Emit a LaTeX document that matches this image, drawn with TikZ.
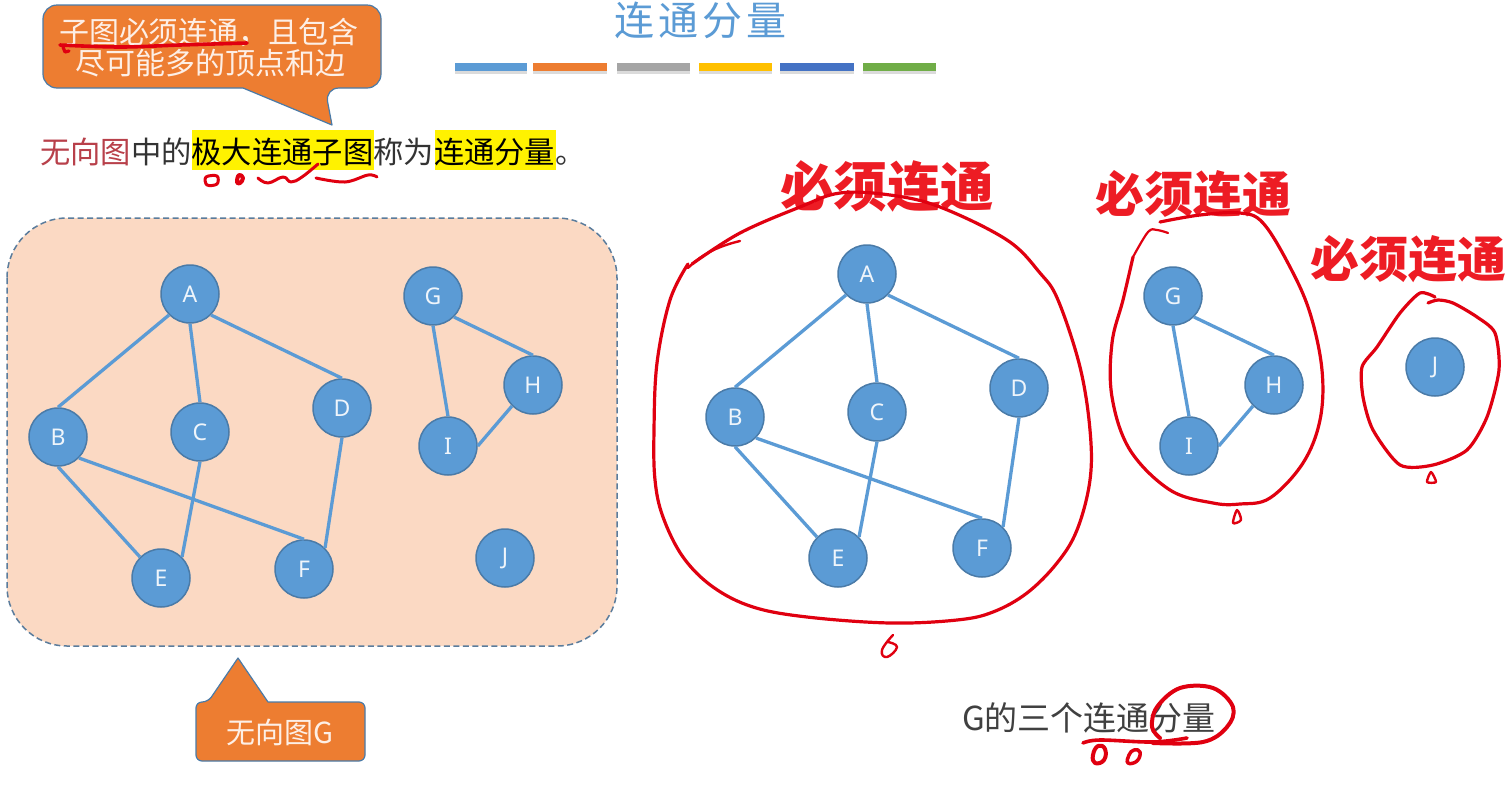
\documentclass[tikz,border=0pt]{standalone}
\usepackage{fontspec}
\setmainfont{Noto Sans}
\newfontfamily\cjk{Noto Sans CJK SC}
\usetikzlibrary{calc}
\definecolor{blu}{HTML}{5B9BD5}
\definecolor{blub}{HTML}{4A7BA8}
\definecolor{org}{HTML}{ED7D31}
\definecolor{orgl}{HTML}{FBD9C3}
\definecolor{inkred}{HTML}{E00010}
\definecolor{headred}{HTML}{ED1C24}
\definecolor{grayt}{HTML}{404040}
\newcommand{\fs}[1]{\fontsize{#1}{#1}\selectfont}
\tikzset{
  vert/.style={circle,draw=blub,line width=1.5pt,fill=blu,minimum size=58pt,inner sep=0pt,text=white!90!blu,font=\fs{23}},
  edg/.style={draw=blu,line width=3.3pt},
  bar/.style={inner sep=0pt,minimum height=8pt,anchor=west},
  txt/.style={inner sep=0pt,font=\cjk\fs{30},text=grayt},
  redhead/.style={inner sep=0pt,text=headred,font=\cjk\bfseries},
  ink/.style={draw=inkred,line width=3.2pt,line cap=round,line join=round},
  callout/.style={fill=org,draw=blub,line width=1.2pt,line join=round}
}
\begin{document}
\begin{tikzpicture}[x=1pt,y=-1pt]
\useasboundingbox (0,0) rectangle (1508,793);
\fill[white] (0,0) rectangle (1508,793);
% title
\node[inner sep=0pt,font=\cjk\fs{40},text=blu] (title) at (700,20) {连\kern4pt 通\kern4pt 分\kern4pt 量};
\foreach \n/\a/\w/\c in {b1/455/72/5B9BD5,b2/533/74/ED7D31,b3/617/73/A5A5A5,b4/699/73/FFC000,b5/780/74/4472C4,b6/863/73/70AD47}{
  \definecolor{tmpc}{HTML}{\c}
  \fill[black!14] (\a,66) rectangle ++(\w,8);
  \node[bar,fill=tmpc,minimum width=\w pt] (\n) at (\a,67) {};
}
% callout top
\draw[callout,rounded corners=14pt] (43,5) -- (381,5) -- (381,88) -- (325,88) [sharp corners] -- (332,125) -- (243,88) [rounded corners=14pt] -- (43,88) -- cycle;
\node[txt,text=white!88!org] (c1) at (209,32) {子图必须连通，且包含};
\node[txt,text=white!88!org] (c2) at (210,63) {尽可能多的顶点和边};
% sentence
\fill[yellow] (192,130) rectangle (374,170);
\fill[yellow] (435,130) rectangle (556,170);
\node[txt,anchor=west,text=black!80,font=\cjk\fs{30.3}] (s1) at (40,152) {{\color[HTML]{B8404A}无向图}中的{\color{black}极大连通子图}称为{\color{black}连通分量}。};
% panel
\draw[fill=orgl,draw=blub!70!gray,line width=1.5pt,dash pattern=on 6pt off 3.5pt,rounded corners=60pt] (7,218) rectangle (617,646);
% left graph
\foreach \n/\x/\y/\l in {A/190/294/A,G/433/296/G,H/533/385/H,B/58/437/B,C/200/432/C,D/342/408/D,I/448/446/I,E/161/578/E,F/304/569/F,J/505/558/J}{
  \node[vert] (L\n) at (\x,\y) {\l};
}
% right graph
\foreach \n/\x/\y/\l in {A/867/274/A,B/735/417/B,C/877/412/C,D/1019/388/D,E/838/558/E,F/982/548/F,G/1173/296/G,H/1274/385/H,I/1189/446/I,J/1435/367/J}{
  \node[vert] (R\n) at (\x,\y) {\l};
}
\foreach \p in {L,R}{
  \draw[edg] (\p A.south west) -- (\p B.north);
  \draw[edg] (\p A.south) -- (\p C.north);
  \draw[edg] (\p A.south east) -- (\p D.north);
  \draw[edg] (\p B.south) -- (\p E.north west);
  \draw[edg] (\p B.south east) -- (\p F.north);
  \draw[edg] (\p C.south) -- (\p E.north east);
  \draw[edg] (\p D.south) -- (\p F.north east);
  \draw[edg] (\p G.south east) -- (\p H.north);
  \draw[edg] (\p G.south) -- (\p I.north);
  \draw[edg] (\p H.south west) -- (\p I.east);
}
% callout bottom
\draw[callout,rounded corners=6pt] (196,702) -- (208,702) [sharp corners] -- (238,658) -- (268,702) [rounded corners=6pt] -- (365,702) -- (365,761) -- (196,761) -- cycle;
\node[txt,text=white!88!org,font=\cjk\fs{29}] (c3) at (280,732) {无向图G};
% captions
\node[txt,anchor=west,font=\cjk\fs{33}] (cap) at (962,718) {G的三个连通分量};
\node[redhead,font=\cjk\bfseries\fs{53.5}] (h1) at (887,186) {必须连通};
\node[redhead,font=\cjk\bfseries\fs{49}] (h2) at (1193,194) {必须连通};
\node[redhead,font=\cjk\bfseries\fs{49}] (h3) at (1408,259) {必须连通};
% ink
\draw[ink,line width=2.4pt] (740,241) .. controls (715,247) and (700,256) .. (688,268);
\draw[ink] plot[smooth,tension=0.6] coordinates {(688,264) (670,300) (657,363) (654,430) (655,480) (663,517) (683,557) (713,587) (753,607) (807,617) (890,623) (957,620) (993,612) (1027,593) (1057,563) (1077,530) (1090,480) (1090,430) (1080,367) (1058,300) (1040,273) (1007,240) (940,207) (890,195) (840,193) (800,207) (740,233) (692,264)};
\draw[ink,line width=2.2pt] plot[smooth,tension=0.6] coordinates {(1168,233) (1157,230) (1148,232) (1133,257)};
\draw[ink] plot[smooth,tension=0.6] coordinates {(1133,257) (1123,300) (1112,343) (1112,397) (1130,450) (1170,490) (1213,503) (1240,504) (1270,498) (1303,463) (1320,420) (1322,370) (1310,313) (1290,267) (1263,223) (1240,213) (1200,215) (1160,222)};
\draw[ink] plot[smooth,tension=0.45] coordinates {(1435,297) (1420,293) (1400,313) (1377,347) (1362,367) (1363,397) (1373,430) (1400,465) (1433,465) (1467,450) (1487,417) (1499,370) (1495,333) (1477,317) (1453,303) (1438,300) (1428,303)};
\draw[ink,line width=3.6pt] plot[smooth,tension=0.6] coordinates {(60,45) (120,47) (180,45) (247,43)};
\draw[ink] (63,47) -- (65,52) -- (69,51);
\draw[ink,line width=3pt] plot[smooth cycle,tension=0.6] coordinates {(206,177) (217,176) (217,184) (207,185)};
\draw[ink,line width=4pt] plot[smooth cycle,tension=0.8] coordinates {(239,175) (243,178) (240,183) (237,182)};
\draw[ink,line width=3pt] plot[smooth,tension=0.7] coordinates {(258,178) (268,183) (283,177) (291,182) (302,177) (318,164)};
\draw[ink,line width=3pt] plot[smooth,tension=0.6] coordinates {(316,178) (345,182) (368,175) (377,177)};
\draw[ink,line width=2.4pt] plot[smooth,tension=0.8] coordinates {(893,635) (882,650) (887,657) (897,647) (888,642)};
\draw[ink,line width=2.4pt] plot[smooth cycle,tension=0.5] coordinates {(1237,510) (1241,520) (1233,523)};
\draw[ink,line width=2.4pt] plot[smooth cycle,tension=0.4] coordinates {(1431,472) (1436,482) (1427,482)};
\draw[ink,line width=3.6pt] plot[smooth,tension=0.6] coordinates {(1083,743) (1100,740) (1153,742) (1187,738)};
\draw[ink,line width=4pt] plot[smooth,tension=0.6] coordinates {(1160,738) (1152,727) (1157,707) (1180,688) (1213,688) (1233,707) (1227,727) (1203,742) (1153,743)};
\draw[ink,line width=4pt] plot[smooth cycle,tension=0.8] coordinates {(1098,746) (1105,749) (1104,760) (1095,763) (1093,755)};
\draw[ink,line width=3.5pt] plot[smooth cycle,tension=0.8] coordinates {(1134,750) (1140,752) (1137,761) (1128,763) (1129,755)};
\end{tikzpicture}
\end{document}
